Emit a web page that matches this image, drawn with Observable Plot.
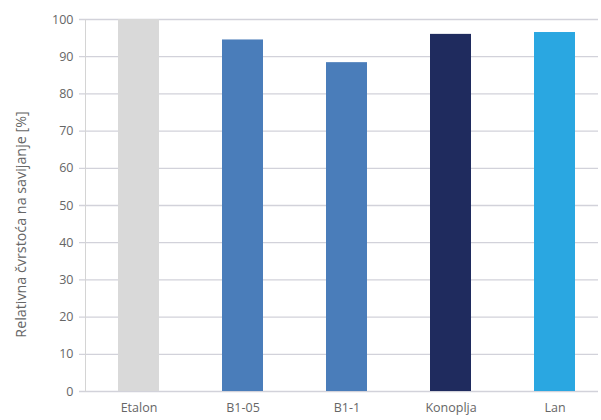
<!DOCTYPE html>
<html>
<head>
<meta charset="utf-8">
<script src="https://cdn.jsdelivr.net/npm/d3@7"></script>
<script src="https://cdn.jsdelivr.net/npm/@observablehq/plot@0.6"></script>
<style>
  html, body { margin: 0; padding: 0; background: #fff; }
  svg { display: block; }
</style>
</head>
<body>
<div id="chart"></div>
<script>
const categories = ["Etalon", "B1-05", "B1-1", "Konoplja", "Lan"];
const values = [100, 94.5, 88.4, 96.0, 96.5];
const colors = ["#d9d9d9", "#4a7dba", "#4a7dba", "#1f2b5e", "#2aa7e1"];
const yTicks = [0, 10, 20, 30, 40, 50, 60, 70, 80, 90, 100];
const yLabel = "Relativna čvrstoća na savijanje [%]";

const data = categories.map((c, i) => ({cat: c, value: values[i], color: colors[i]}));

const chart = Plot.plot({
  width: 601,
  height: 420,
  marginTop: 19,
  marginBottom: 29,
  marginLeft: 85,
  marginRight: 0,
  style: {fontFamily: "'Open Sans', sans-serif", fontSize: "12px", color: "#666", background: "#fff"},
  x: {domain: categories, range: [85, 607], paddingInner: 0.61, paddingOuter: 0.305, label: null},
  y: {domain: [0, 100], ticks: yTicks, label: null},
  marks: [
    Plot.ruleY(yTicks, {stroke: "#d2d2da", strokeWidth: 1.3, insetLeft: -6, insetRight: 3}),
    Plot.frame({anchor: "left", stroke: "#d4d4d4"}),
    Plot.barY(data, {x: "cat", y: "value", fill: "color"}),
    Plot.axisX({tickSize: 0, tickPadding: 12, fill: "#666", fontSize: 12.5, label: null}),
    Plot.axisY(yTicks, {tickSize: 0, tickPadding: 12, fill: "#666", fontSize: 12.5, label: null}),
    Plot.text([yLabel], {frameAnchor: "left", textAnchor: "middle", dx: -64, dy: 19, rotate: -90, fill: "#666", fontSize: 14.3})
  ]
});
document.getElementById("chart").appendChild(chart);
</script>
</body>
</html>
